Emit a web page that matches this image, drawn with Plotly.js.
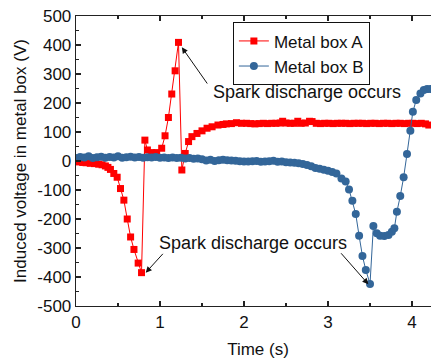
<!DOCTYPE html>
<html>
<head>
<meta charset="utf-8">
<script src="https://cdn.plot.ly/plotly-3.0.1.min.js"></script>
<style>
html,body{margin:0;padding:0;overflow:hidden;background:#fff;width:431px;height:360px;}
#chart{width:440px;height:360px;}
</style>
</head>
<body>
<div id="chart"></div>
<script>
// Metal box A (red squares)
const timeA = [0.00,0.04,0.08,0.12,0.17,0.22,0.27,0.31,0.35,0.38,0.41,0.45,0.49,0.53,0.57,0.61,0.65,0.69,0.74,0.78,
  0.82,0.85,0.90,0.96,1.02,1.06,1.10,1.14,1.18,1.22,1.26,1.30,1.34,1.38,1.44,1.50,1.56,1.62,1.69,1.75,1.79,1.85,1.91,1.97,
  2.03,2.08,2.13,2.18,2.23,2.28,2.33,2.38,2.43,2.46,2.50,2.55,2.60,2.64,2.68,2.73,2.78,2.81,2.86,2.91,2.96,3.01,3.06,3.11,3.16,
  3.21,3.26,3.31,3.36,3.41,3.46,3.51,3.56,3.61,3.66,3.71,3.76,3.81,3.86,3.91,3.96,4.01,4.06,4.11,4.16,4.20];
const voltA = [-2,-3,-5,-6,-8,-9,-11,-13,-17,-22,-29,-43,-56,-95,-135,-200,-262,-305,-352,-385,
  72,38,29,29,44,87,150,231,311,409,-31,26,67,84,95,104,113,118,124,126,128,129,132,130,
  130,129,128,129,130,129,130,130,131,137,131,130,130,137,130,131,137,136,130,129,130,130,129,130,130,
  130,129,130,130,130,129,130,130,129,130,130,129,130,130,129,130,130,129,130,128,124];

// Metal box B (blue circles)
const timeB = [0.00,0.05,0.10,0.15,0.20,0.25,0.30,0.35,0.40,0.45,0.50,0.55,0.60,0.65,0.70,0.75,0.80,0.85,0.90,0.95,
  1.00,1.05,1.10,1.15,1.20,1.25,1.30,1.35,1.40,1.45,1.50,1.55,1.60,1.65,1.70,1.75,1.80,1.85,1.90,1.95,
  2.00,2.05,2.10,2.15,2.20,2.25,2.30,2.35,2.40,2.45,2.50,2.55,2.60,2.65,2.70,2.75,2.80,2.85,2.90,2.95,
  3.00,3.05,3.10,3.16,3.21,3.25,3.29,3.33,3.37,3.41,3.45,3.50,3.54,3.58,3.62,3.67,3.72,3.76,3.79,3.82,
  3.86,3.90,3.94,3.98,4.01,4.05,4.10,4.14,4.18,4.22];
const voltB = [10,14,12,16,10,13,15,11,14,12,16,11,13,15,12,14,11,13,12,14,
  11,12,10,12,10,11,9,10,8,9,6,2,4,0,3,4,3,2,1,-1,
  -2,-2,-1,0,-3,-2,-1,1,-3,-2,-4,-5,-6,-8,-10,-14,-18,-24,-27,-30,
  -34,-38,-43,-60,-71,-98,-137,-183,-258,-328,-376,-424,-224,-249,-258,-259,-255,-244,-232,-175,
  -121,-56,24,104,170,210,233,245,248,248];

const xTicks = [0,1,2,3,4];
const yTicks = [-500,-400,-300,-200,-100,0,100,200,300,400,500];

const FONT = 'Liberation Sans, Arial, sans-serif';

const traces = [
  {x: timeA, y: voltA, name: 'Metal box A', type: 'scatter', mode: 'lines+markers',
   line: {color: '#ff0000', width: 1}, marker: {symbol: 'square', size: 7, color: '#ff0000'}},
  {x: timeB, y: voltB, name: 'Metal box B', type: 'scatter', mode: 'lines+markers',
   line: {color: '#336699', width: 1}, marker: {symbol: 'circle', size: 8, color: '#336699'}}
];

const axisCommon = {
  showgrid: false, zeroline: false, showline: true, linecolor: '#222', linewidth: 1.3,
  mirror: 'ticks', ticks: 'inside', ticklen: 5, tickcolor: '#222', tickwidth: 1.2,
  tickfont: {family: FONT, size: 17, color: '#111'}
};

const layout = {
  width: 440, height: 360,
  margin: {l: 76, r: 0, t: 16, b: 54},
  paper_bgcolor: '#fff', plot_bgcolor: '#fff',
  font: {family: FONT, color: '#111'},
  showlegend: true,
  legend: {x: 0.431, y: 0.978, xanchor: 'left', yanchor: 'top',
    bordercolor: '#111', borderwidth: 1, bgcolor: '#fff',
    font: {family: FONT, size: 17, color: '#111'}, tracegroupgap: 0},
  xaxis: Object.assign({}, axisCommon, {
    range: [0, 4.333], tickvals: xTicks, ticktext: xTicks.map(String),
    minor: {dtick: 0.5, ticks: 'inside', ticklen: 3, tickcolor: '#222'},
    title: {text: 'Time (s)', font: {family: FONT, size: 17, color: '#111'}, standoff: 12}
  }),
  yaxis: Object.assign({}, axisCommon, {
    range: [-500, 500], tickvals: yTicks, ticktext: yTicks.map(String),
    minor: {dtick: 50, ticks: 'inside', ticklen: 3, tickcolor: '#222'},
    title: {text: 'Induced voltage in metal box (V)', font: {family: FONT, size: 17, color: '#111'}, standoff: 6}
  }),
  annotations: [
    {x: 2.75, y: 238, xref: 'x', yref: 'y', text: 'Spark discharge occurs', showarrow: false,
     font: {family: FONT, size: 18, color: '#111'}},
    {x: 1.26, y: 392, ax: 1.575, ay: 262, xref: 'x', yref: 'y', axref: 'x', ayref: 'y', text: '',
     showarrow: true, arrowhead: 2, arrowsize: 1.2, arrowwidth: 1, arrowcolor: '#111'},
    {x: 2.11, y: -283, xref: 'x', yref: 'y', text: 'Spark discharge occurs', showarrow: false,
     font: {family: FONT, size: 18, color: '#111'}},
    {x: 0.83, y: -385, ax: 1.05, ay: -315, xref: 'x', yref: 'y', axref: 'x', ayref: 'y', text: '',
     showarrow: true, arrowhead: 2, arrowsize: 1.2, arrowwidth: 1, arrowcolor: '#111'},
    {x: 3.48, y: -425, ax: 3.14, ay: -313, xref: 'x', yref: 'y', axref: 'x', ayref: 'y', text: '',
     showarrow: true, arrowhead: 2, arrowsize: 1.2, arrowwidth: 1, arrowcolor: '#111'}
  ]
};

Plotly.newPlot('chart', traces, layout, {displayModeBar: false, staticPlot: true});
</script>
</body>
</html>
